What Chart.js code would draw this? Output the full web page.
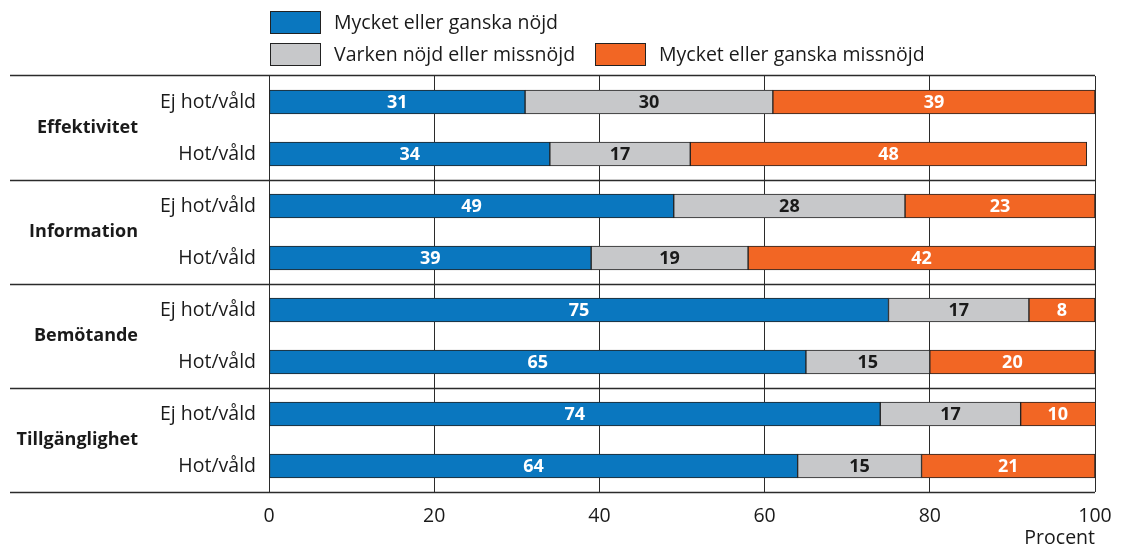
<!DOCTYPE html>
<html lang="sv">
<head>
<meta charset="utf-8">
<title>Nöjdhet – hot/våld</title>
<script src="https://cdn.jsdelivr.net/npm/chart.js@4/dist/chart.umd.min.js"></script>
<style>
  html, body { margin: 0; padding: 0; background: #fff; }
  #wrap { width: 1125px; height: 550px; }
</style>
</head>
<body>
<div id="wrap"><canvas id="satisfactionChart" width="1125" height="550"></canvas></div>
<script>
// Data per fråga och grupp (procent)
const groups = ['Effektivitet', 'Information', 'Bemötande', 'Tillgänglighet'];
const rows = ['Ej hot/våld', 'Hot/våld', 'Ej hot/våld', 'Hot/våld', 'Ej hot/våld', 'Hot/våld', 'Ej hot/våld', 'Hot/våld'];
const seriesNames = ['Mycket eller ganska nöjd', 'Varken nöjd eller missnöjd', 'Mycket eller ganska missnöjd'];
const satisfied    = [31, 34, 49, 39, 75, 65, 74, 64];
const neutral      = [30, 17, 28, 19, 17, 15, 17, 15];
const dissatisfied = [39, 48, 23, 42, 8, 20, 10, 21];
const xTicks = [0, 20, 40, 60, 80, 100];
const xTitle = 'Procent';

const colors = ['#0a77bf', '#c7c8ca', '#f26624'];
const valueColors = ['#ffffff', '#1a1a1a', '#ffffff'];
const FONT = "'Open Sans', 'DejaVu Sans', sans-serif";
const TEXT_SIZE = 19.5;
const LINE = '#2b2b2b';

Chart.defaults.font.family = FONT;
Chart.defaults.font.size = TEXT_SIZE;
Chart.defaults.color = '#1a1a1a';

// horisontella linjer mellan grupperna (sträcker sig ut under etiketterna)
const groupLines = {
    id: 'groupLines',
    beforeDatasetsDraw(chart) {
        const { ctx, chartArea, scales: { y } } = chart;
        const ys = [chartArea.top - 1, chartArea.bottom];
        for (let i = 1; i < groups.length; i++) {
            const k = i * 2;
            ys.push((y.getPixelForValue(k - 1) + y.getPixelForValue(k)) / 2);
        }
        ctx.save();
        ctx.strokeStyle = LINE;
        ctx.lineWidth = 1.5;
        ys.forEach(py => {
            ctx.beginPath();
            ctx.moveTo(10, Math.round(py) + 0.5);
            ctx.lineTo(chartArea.right, Math.round(py) + 0.5);
            ctx.stroke();
        });
        ctx.restore();
    }
};

// gruppnamn i fetstil till vänster
const groupLabels = {
    id: 'groupLabels',
    afterDraw(chart) {
        const { ctx, scales: { y } } = chart;
        ctx.save();
        ctx.font = 'bold 18px ' + FONT;
        ctx.fillStyle = '#1a1a1a';
        ctx.textAlign = 'right';
        ctx.textBaseline = 'middle';
        groups.forEach((g, i) => {
            const py = (y.getPixelForValue(i * 2) + y.getPixelForValue(i * 2 + 1)) / 2;
            ctx.fillText(g, 138, py);
        });
        ctx.restore();
    }
};

// värden mitt i varje segment
const barValues = {
    id: 'barValues',
    afterDatasetsDraw(chart) {
        const { ctx, chartArea } = chart;
        ctx.save();
        ctx.font = 'bold 18px ' + FONT;
        ctx.textAlign = 'center';
        ctx.textBaseline = 'middle';
        chart.data.datasets.forEach((ds, di) => {
            const meta = chart.getDatasetMeta(di);
            ctx.fillStyle = valueColors[di];
            meta.data.forEach((bar, i) => {
                const right = Math.min(bar.x, chartArea.right);
                const cx = (bar.base + right) / 2;
                ctx.fillText(String(ds.data[i]), cx, bar.y + 1);
            });
        });
        ctx.restore();
    }
};

// teckenförklaring: en rad överst, två rader under
const legendBoxes = {
    id: 'legendBoxes',
    afterDraw(chart) {
        const { ctx } = chart;
        const spots = [[270, 11], [270, 43], [595, 43]];
        ctx.save();
        ctx.font = TEXT_SIZE + 'px ' + FONT;
        ctx.textBaseline = 'middle';
        ctx.textAlign = 'left';
        chart.data.datasets.forEach((ds, i) => {
            const [bx, by] = spots[i];
            ctx.fillStyle = ds.backgroundColor;
            ctx.fillRect(bx, by, 50, 22);
            ctx.strokeStyle = '#222';
            ctx.lineWidth = 1;
            ctx.strokeRect(bx + 0.5, by + 0.5, 50, 22);
            ctx.fillStyle = '#1a1a1a';
            ctx.fillText(ds.label, bx + 64, by + 12);
        });
        ctx.restore();
    }
};

const ctx = document.getElementById('satisfactionChart').getContext('2d');
const satisfactionChart = new Chart(ctx, {
    type: 'bar',
    data: {
        labels: rows,
        datasets: [satisfied, neutral, dissatisfied].map((d, i) => ({
            label: seriesNames[i],
            data: d,
            backgroundColor: colors[i],
            borderColor: '#222',
            borderWidth: 1,
            borderSkipped: false,
            barThickness: 24
        }))
    },
    options: {
        indexAxis: 'y',
        responsive: false,
        animation: false,
        layout: { padding: { top: 76, left: 10, right: 30, bottom: 0 } },
        plugins: { legend: { display: false }, tooltip: { enabled: false } },
        scales: {
            x: {
                stacked: true,
                min: 0,
                max: 100,
                afterBuildTicks: s => { s.ticks = xTicks.map(v => ({ value: v })); },
                afterFit: s => { s.height = 58; },
                grid: { color: LINE, lineWidth: 1, drawTicks: false },
                border: { display: false },
                ticks: { padding: 13, maxRotation: 0, color: '#1a1a1a' },
                title: { display: true, text: xTitle, align: 'end', padding: 0 }
            },
            y: {
                stacked: true,
                afterFit: s => { s.width = 259; },
                grid: { display: false, drawTicks: false },
                border: { display: false },
                ticks: { padding: 13, color: '#1a1a1a' }
            }
        }
    },
    plugins: [groupLines, barValues, groupLabels, legendBoxes]
});
</script>
</body>
</html>
